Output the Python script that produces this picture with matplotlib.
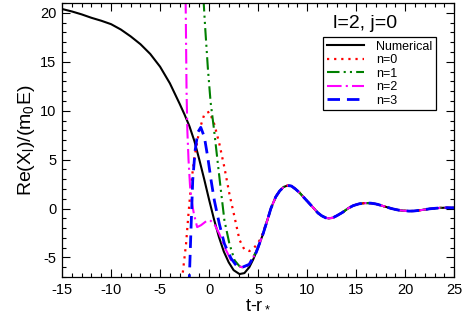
import numpy
import matplotlib
matplotlib.use("Agg")
import matplotlib.pyplot as plt
from matplotlib.ticker import MultipleLocator

# numerical waveform
num_t = [-15, -14, -13, -12, -11, -10, -9, -8, -7, -6, -5, -4, -3, -2.5, -2, -1.5,
         -1, -0.5, 0, 0.5, 1, 1.5, 2, 2.5, 3.1, 3.6, 4.1, 4.5, 5.0, 5.5, 6.0, 6.3,
         6.8, 7.2, 7.6, 8.0, 8.4, 8.8, 9.2, 9.6, 10.2, 10.7, 11.1, 11.5,
         11.9, 12.2, 12.6, 13.0, 13.6, 14.15, 14.7, 15.3, 15.9, 16.5, 17.1, 17.6,
         18.1, 18.6, 19.2, 19.8, 20.4, 20.9, 21.5, 22.0, 22.5, 23.0, 23.5, 24.0, 24.5, 25]
num_y = [20.4, 20.15, 19.85, 19.5, 19.2, 18.85, 18.3, 17.6, 16.8, 15.8, 14.5, 12.8, 10.7,
         9.6, 8.4, 6.9, 5.0, 3.0, 0.9, -1.1, -2.9, -4.4, -5.5, -6.3, -6.7, -6.6, -6.0,
         -5.2, -4.0, -2.6, -1.0, 0.0, 1.2, 1.8, 2.2, 2.35, 2.3, 2.0, 1.65, 1.2, 0.55,
         0.0, -0.45, -0.75, -0.95, -1.0, -0.95, -0.75, -0.4, 0.0, 0.3, 0.48, 0.56, 0.55,
         0.45, 0.3, 0.15, 0.0, -0.14, -0.22, -0.26, -0.25, -0.18, -0.1, -0.03, 0.02,
         0.06, 0.08, 0.08, 0.07]

# QNM sums, early part only (they follow the numerical curve afterwards)
n0_t = [-2.8, -2.7, -2.35, -2.1, -1.84, -1.5, -1.0, -0.48, 0.03, 0.54, 1.05, 1.56, 2.07,
        2.6, 3.1, 3.6, 4.1, 4.6, 5.0, 5.3]
n0_y = [-8.0, -6.7, -3.6, -0.5, 2.5, 5.2, 8.0, 9.66, 9.9, 8.6, 6.6, 4.2, 1.5,
        -0.9, -3.2, -4.2, -4.35, -4.0, -3.5, -3.0]

n1_t = [-0.62, -0.55, -0.4, -0.13, 0.15, 0.5, 0.88, 1.22, 1.56, 2.07, 2.6, 3.1, 3.5,
        3.9, 4.3, 4.8]
n1_y = [22.0, 21.0, 18.5, 14.4, 10.9, 8.1, 4.7, 1.7, -1.2, -3.6, -5.3, -5.9, -6.05,
        -5.9, -5.3, -4.4]

n2_t = [-2.4, -2.35, -2.3, -2.22, -2.1, -1.95, -1.8, -1.56, -1.22, -0.82, -0.3, 0.1,
        0.54, 1.05, 1.56, 2.24, 2.9, 3.4, 4.0, 4.8]
n2_y = [22.0, 17.0, 12.0, 8.0, 5.0, 2.4, 0.9, -0.5, -1.9, -1.7, -1.3, -1.2,
        -1.6, -2.6, -3.9, -5.3, -5.9, -6.0, -5.8, -4.5]

n3_t = [-2.08, -2.0, -1.84, -1.67, -1.43, -1.15, -0.85, -0.48, -0.13, 0.2, 0.54, 1.05,
        1.56, 2.24, 2.76, 3.4, 4.1, 4.8]
n3_y = [-8.0, -6.7, -1.9, 2.9, 5.9, 7.8, 8.3, 7.3, 5.2, 2.9, 0.8, -1.6,
        -3.6, -5.1, -5.8, -6.0, -5.7, -4.5]


def with_tail(t, y):
    # continue a QNM curve along the numerical data once they overlap
    t_num = numpy.array(num_t)
    y_num = numpy.array(num_y)
    keep = t_num > t[-1] + 0.2
    return numpy.concatenate([t, t_num[keep]]), numpy.concatenate([y, y_num[keep]])


def main():
    plt.rcParams["font.family"] = ["Liberation Sans", "DejaVu Sans"]
    plt.rcParams["mathtext.default"] = "regular"
    plt.rcParams["axes.unicode_minus"] = False

    fig = plt.figure(figsize=(4.63, 3.13), dpi=100)
    ax = fig.add_axes([0.134, 0.115, 0.847, 0.875])

    ax.plot(num_t, num_y, color="black", lw=1.5, label="Numerical")
    t, y = with_tail(n0_t, n0_y)
    ax.plot(t, y, color="#ff0000", lw=1.6, ls=(0, (1, 2.2)), label="n=0")
    t, y = with_tail(n1_t, n1_y)
    ax.plot(t, y, color="#008000", lw=1.5, ls=(0, (6, 2, 1, 2, 1, 2)), label="n=1")
    t, y = with_tail(n2_t, n2_y)
    ax.plot(t, y, color="#ff00ff", lw=1.5, ls=(0, (7, 2, 1, 2)), label="n=2")
    t, y = with_tail(n3_t, n3_y)
    ax.plot(t, y, color="#0000ff", lw=2.0, ls=(0, (4.5, 2.5)), label="n=3")

    ax.set_xlim(-15, 25)
    ax.set_ylim(-7, 21)
    ax.xaxis.set_major_locator(MultipleLocator(5))
    ax.xaxis.set_minor_locator(MultipleLocator(1))
    ax.yaxis.set_major_locator(MultipleLocator(5))
    ax.yaxis.set_minor_locator(MultipleLocator(1))
    ax.tick_params(which="both", direction="in", top=True, right=True, width=0.8)
    ax.tick_params(which="major", length=5.8, labelsize=10.5, pad=4)
    ax.tick_params(which="minor", length=3)
    for s in ax.spines.values():
        s.set_linewidth(0.9)

    ax.set_xlabel(r"t-r$_*$", fontsize=13, labelpad=-1)
    ax.set_ylabel(r"Re(X$_l$)/(m$_0$E)", fontsize=14, labelpad=2)

    ax.text(0.772, 0.925, "l=2, j=0", transform=ax.transAxes, fontsize=14,
            ha="center", va="center")
    leg = ax.legend(loc="upper left", bbox_to_anchor=(0.666, 0.877), fontsize=9,
                    fancybox=False, framealpha=1, edgecolor="black",
                    handlelength=3.0, handletextpad=0.9, labelspacing=0.12,
                    borderpad=0.3, borderaxespad=0)
    leg.get_frame().set_linewidth(0.9)

    plt.savefig("out.png", dpi=100)


if __name__ == "__main__":
    main()
